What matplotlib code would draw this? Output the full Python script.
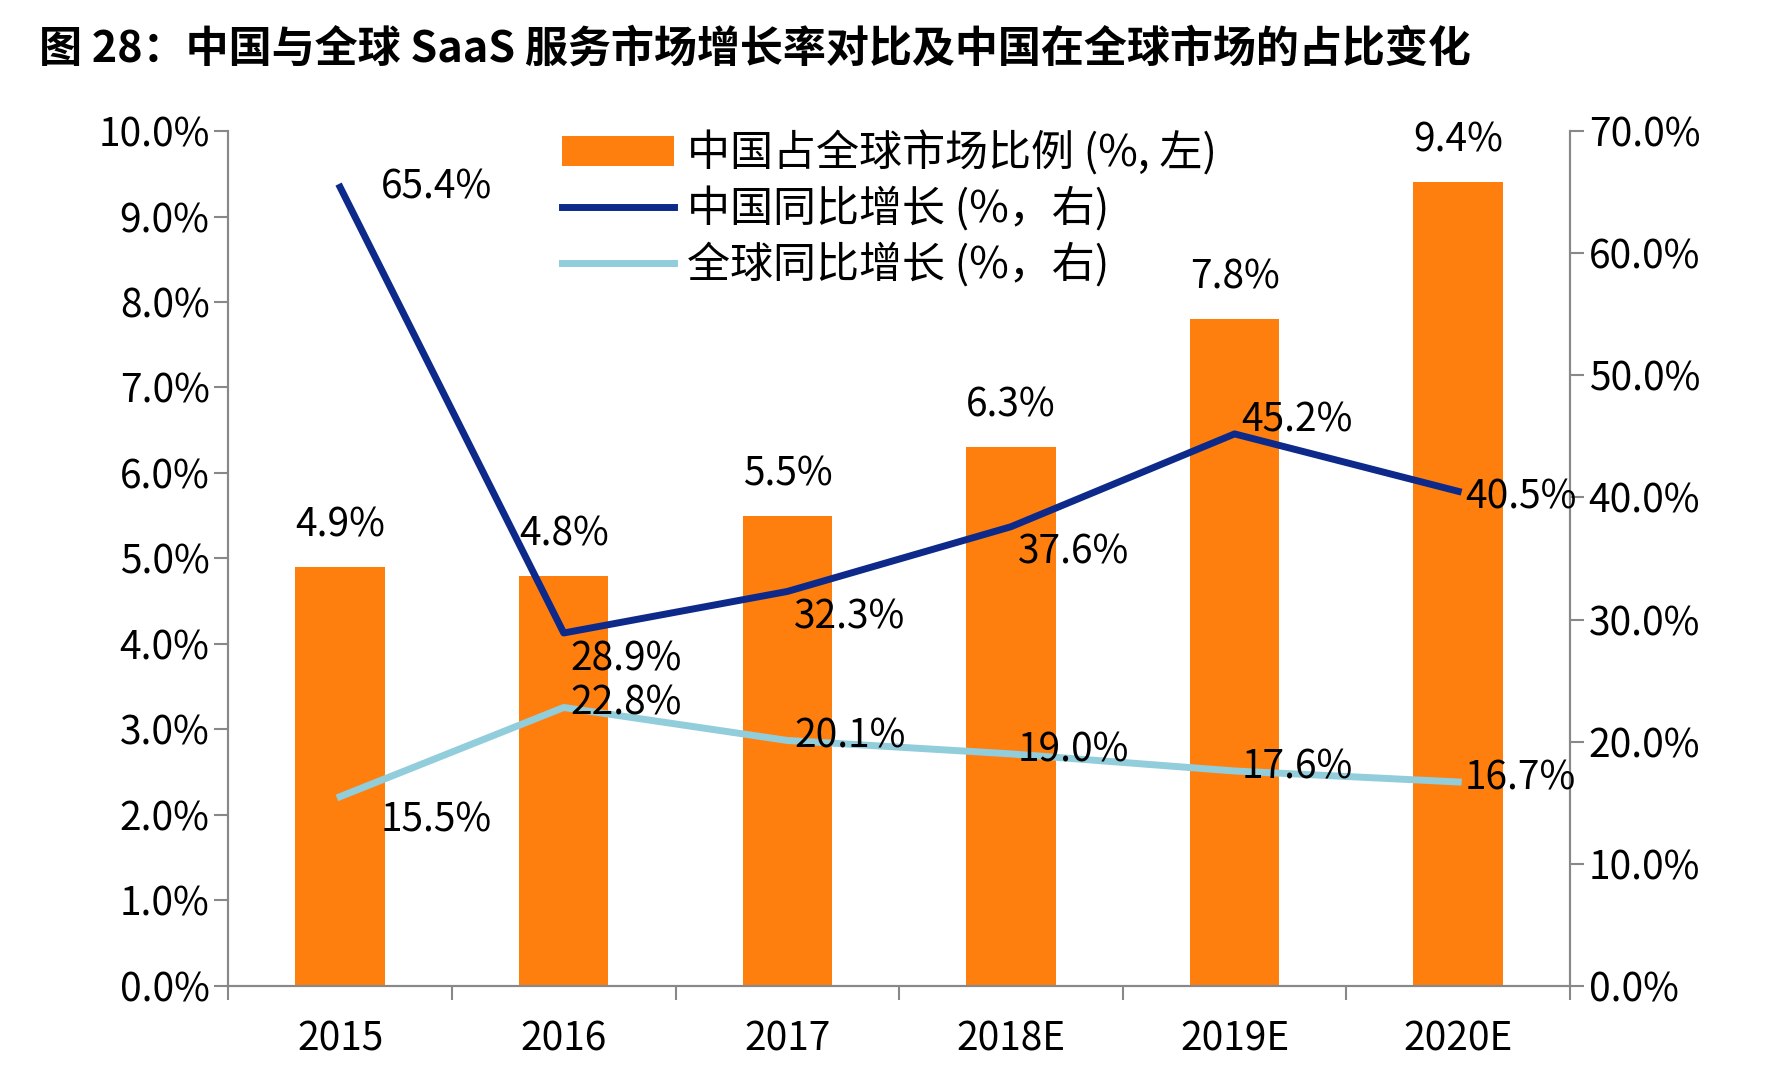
import matplotlib
matplotlib.use("Agg")
import matplotlib.pyplot as plt
from matplotlib.ticker import FuncFormatter, MultipleLocator

plt.rcParams['font.family'] = ['Noto Sans CJK SC', 'DejaVu Sans']

years = ["2015", "2016", "2017", "2018E", "2019E", "2020E"]
share = [4.9, 4.8, 5.5, 6.3, 7.8, 9.4]
china_growth = [65.4, 28.9, 32.3, 37.6, 45.2, 40.5]
global_growth = [15.5, 22.8, 20.1, 19.0, 17.6, 16.7]

fig = plt.figure(figsize=(17.7, 10.74), dpi=100)
ax = fig.add_axes([0.129, 0.082, 0.758, 0.796])
ax2 = ax.twinx()
x = list(range(len(years)))
bars = ax.bar(x, share, width=0.4, color='#FF7F0E', label='中国占全球市场比例 (%, 左)', zorder=2)
ax.set_xlim(-0.5, 5.5)
ax.set_ylim(0, 10)
ax2.set_ylim(0, 70)
l1, = ax2.plot(x, china_growth, color='#0D2A8A', lw=5, label='中国同比增长 (%，右)')
l2, = ax2.plot(x, global_growth, color='#92CDDC', lw=5, label='全球同比增长 (%，右)')

fs = 28
for i, v in enumerate(share):
    ax.text(i, v + 0.25, f"{v:.1f}%", ha='center', va='bottom', fontsize=fs)
ax2.text(0.18, china_growth[0], f"{china_growth[0]:.1f}%", ha='left', va='center', fontsize=fs)
for i in range(1, 6):
    ax2.text(i + 0.03, china_growth[i] - 0.5, f"{china_growth[i]:.1f}%", ha='left',
             va='top' if i < 4 else ('bottom' if i == 4 else 'center'), fontsize=fs)
for i, v in enumerate(global_growth):
    ax2.text(i + 0.18 if i == 0 else i + 0.03, v + (-0.3 if i == 0 else 0.3), f"{v:.1f}%",
             ha='left', va='top' if i == 0 else 'center', fontsize=fs)

fmt = FuncFormatter(lambda v, p: f"{v:.1f}%")
ax.yaxis.set_major_locator(MultipleLocator(1))
ax.yaxis.set_major_formatter(fmt)
ax2.yaxis.set_major_locator(MultipleLocator(10))
ax2.yaxis.set_major_formatter(fmt)
ax.set_xticks(x)
ax.set_xticklabels(years)
ax.set_xticks([i + 0.5 for i in range(-1, 6)], minor=True)
ax.tick_params(axis='x', which='major', length=0, labelsize=fs, pad=24)
ax.tick_params(axis='x', which='minor', length=10, color='#888888', width=1.5)
ax.tick_params(axis='y', labelsize=fs, length=10, color='#888888', width=1.5)
ax2.tick_params(axis='y', labelsize=fs, length=10, color='#888888', width=1.5)
for a in (ax, ax2):
    a.spines['top'].set_visible(False)
    for s in ('left', 'right', 'bottom'):
        a.spines[s].set_color('#888888')
        a.spines[s].set_linewidth(1.5)

handles = [bars, l1, l2]
labels = ['中国占全球市场比例 (%, 左)', '中国同比增长 (%，右)', '全球同比增长 (%，右)']
leg = ax2.legend(handles, labels, loc='upper left',
                 bbox_to_anchor=(0.22, 1.045), frameon=False, fontsize=31,
                 handlelength=2.6, labelspacing=0.25, handletextpad=0.3)

fig.text(0.022, 0.955, "图 28：中国与全球 SaaS 服务市场增长率对比及中国在全球市场的占比变化",
         fontsize=31, fontweight='bold', ha='left', va='center')
fig.savefig("out.png", dpi=100)
